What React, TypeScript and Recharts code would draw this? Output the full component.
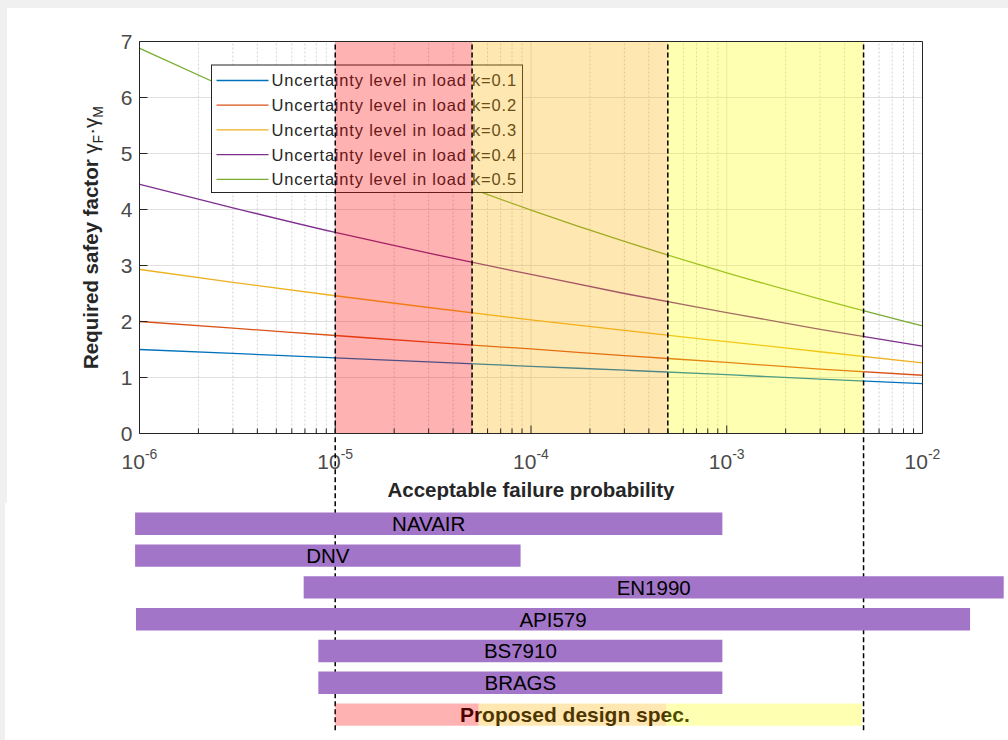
import React from 'react';
import {
  ComposedChart,
  BarChart,
  Line,
  Bar,
  XAxis,
  YAxis,
  CartesianGrid,
  ReferenceArea,
  ReferenceLine,
  LabelList,
  Label,
} from 'recharts';

const FONT = '"Liberation Sans", Arial, Helvetica, sans-serif';
const AXIS_COLOR = '#262626';
const TICK_TEXT = '#4a4a4a';

// ---------------- top chart data ----------------
const probabilities = [1e-6, 3e-6, 1e-5, 3e-5, 1e-4, 3e-4, 1e-3, 3e-3, 1e-2];
const factorK01 = [1.5, 1.43, 1.35, 1.28, 1.2, 1.13, 1.05, 0.97, 0.89];
const factorK02 = [2.0, 1.88, 1.75, 1.63, 1.51, 1.39, 1.27, 1.15, 1.04];
const factorK03 = [2.93, 2.7, 2.46, 2.25, 2.03, 1.84, 1.64, 1.46, 1.26];
const factorK04 = [4.45, 4.03, 3.59, 3.22, 2.84, 2.5, 2.16, 1.86, 1.56];
const factorK05 = [6.88, 6.12, 5.32, 4.66, 3.99, 3.43, 2.87, 2.4, 1.92];

const seriesKeys = ['k01', 'k02', 'k03', 'k04', 'k05'];
const seriesNames = [
  'Uncertainty level in load k=0.1',
  'Uncertainty level in load k=0.2',
  'Uncertainty level in load k=0.3',
  'Uncertainty level in load k=0.4',
  'Uncertainty level in load k=0.5',
];
const seriesColors = ['#0072BD', '#D95319', '#EDB120', '#7E2F8E', '#77AC30'];

const xMajorTicks = [1e-6, 1e-5, 1e-4, 1e-3, 1e-2];
const xMinorTicks = [
  2e-6, 3e-6, 4e-6, 5e-6, 6e-6, 7e-6, 8e-6, 9e-6,
  2e-5, 3e-5, 4e-5, 5e-5, 6e-5, 7e-5, 8e-5, 9e-5,
  2e-4, 3e-4, 4e-4, 5e-4, 6e-4, 7e-4, 8e-4, 9e-4,
  2e-3, 3e-3, 4e-3, 5e-3, 6e-3, 7e-3, 8e-3, 9e-3,
];
const yTicks = [0, 1, 2, 3, 4, 5, 6, 7];

const zoneEdges = [1e-5, 5e-5, 5e-4, 5e-3];
const zoneColors = ['#FF0000', '#FFB000', '#FFFF00'];

// ---------------- bottom chart data ----------------
const standardNames = ['NAVAIR', 'DNV', 'EN1990', 'API579', 'BS7910', 'BRAGS'];
const standardLow = [9.5e-7, 9.5e-7, 6.9e-6, 9.6e-7, 8.2e-6, 8.2e-6];
const standardHigh = [9.5e-4, 8.85e-5, 2.6e-2, 1.75e-2, 9.5e-4, 9.5e-4];
const proposedName = 'Proposed design spec.';
const proposedEdges = [1e-5, 5.4e-5, 4.9e-4, 4.9e-3];
const extendedLines = [1e-5, 5e-3];

const allXTicks = [...xMajorTicks, ...xMinorTicks].sort((a, b) => a - b);

const curveData = probabilities.map((p, i) => ({
  p,
  k01: factorK01[i],
  k02: factorK02[i],
  k03: factorK03[i],
  k04: factorK04[i],
  k05: factorK05[i],
}));

const barRows: any[] = [
  ...standardNames.map((name, i) => ({ name, range: [standardLow[i], standardHigh[i]] })),
  {
    name: proposedName,
    low: [proposedEdges[0], proposedEdges[1]],
    mid: [proposedEdges[1], proposedEdges[2]],
    high: [proposedEdges[2], proposedEdges[3]],
  },
];

// ---------------- tick renderers ----------------
function XTickBottom(props: any) {
  const { x, y, payload } = props;
  const v = payload.value;
  const major = xMajorTicks.includes(v);
  return (
    <g>
      <line x1={x} x2={x} y1={y} y2={y - (major ? 8 : 5)} stroke={AXIS_COLOR} strokeWidth={1} />
      {major && (
        <text x={x} y={y + 35.5} textAnchor="middle" fontFamily={FONT} fontSize={21} fill={TICK_TEXT}>
          10
          <tspan dy={-10} fontSize={14}>
            {String(Math.round(Math.log10(v)))}
          </tspan>
        </text>
      )}
    </g>
  );
}

function XTickTop(props: any) {
  const { x, y, payload } = props;
  const major = xMajorTicks.includes(payload.value);
  return <line x1={x} x2={x} y1={y} y2={y + (major ? 8 : 5)} stroke={AXIS_COLOR} strokeWidth={1} />;
}

function YTickLeft(props: any) {
  const { x, y, payload } = props;
  return (
    <g>
      <line x1={x} x2={x + 8} y1={y} y2={y} stroke={AXIS_COLOR} strokeWidth={1} />
      <text x={x - 7} y={y} dy="0.36em" textAnchor="end" fontFamily={FONT} fontSize={21} fill={TICK_TEXT}>
        {payload.value}
      </text>
    </g>
  );
}

function YTickRight(props: any) {
  const { x, y } = props;
  return <line x1={x} x2={x - 8} y1={y} y2={y} stroke={AXIS_COLOR} strokeWidth={1} />;
}

function XLabelContent(props: any) {
  const vb = props.viewBox || {};
  const cx = vb.x + vb.width / 2;
  return (
    <text x={cx} y={vb.y + 63.5} textAnchor="middle" fontFamily={FONT} fontSize={20.5} fontWeight="bold" fill={AXIS_COLOR}>
      Acceptable failure probability
    </text>
  );
}

function YLabelContent(props: any) {
  const vb = props.viewBox || {};
  const cx = vb.x + vb.width - 42;
  const cy = vb.y + vb.height / 2;
  return (
    <text
      x={cx}
      y={cy}
      transform={`rotate(-90 ${cx} ${cy})`}
      textAnchor="middle"
      fontFamily={FONT}
      fontSize={20.5}
      fill={AXIS_COLOR}
    >
      <tspan fontWeight="bold">Required safey factor </tspan>
      <tspan>γ</tspan>
      <tspan fontSize={14} dy={5}>F</tspan>
      <tspan dy={-5}>·γ</tspan>
      <tspan fontSize={14} dy={5}>M</tspan>
    </text>
  );
}

function LegendBox() {
  const x0 = 211.5;
  const y0 = 65;
  const rowH = 24.7;
  return (
    <g>
      <rect x={x0} y={y0} width={311} height={127.5} fill="#ffffff" stroke={AXIS_COLOR} strokeWidth={1} />
      {seriesNames.map((name, i) => {
        const cy = y0 + 15.5 + i * rowH;
        return (
          <g key={name}>
            <line x1={x0 + 5} x2={x0 + 57} y1={cy} y2={cy} stroke={seriesColors[i]} strokeWidth={1.3} />
            <text
              x={x0 + 60}
              y={cy}
              dy="0.36em"
              fontFamily={FONT}
              fontSize={16.5}
              letterSpacing={0.8}
              fill={AXIS_COLOR}
            >
              {name}
            </text>
          </g>
        );
      })}
    </g>
  );
}

function validBox(vb: any) {
  return (
    vb &&
    Number.isFinite(vb.x) &&
    Number.isFinite(vb.y) &&
    Number.isFinite(vb.width) &&
    Number.isFinite(vb.height) &&
    Math.abs(vb.width) > 0.5
  );
}

function StandardLabel(props: any) {
  const vb = props.viewBox && Number.isFinite(props.viewBox.x) ? props.viewBox : props;
  if (!validBox(vb) || props.value == null) return null;
  return (
    <text
      x={vb.x + vb.width / 2}
      y={vb.y + vb.height / 2}
      dy="0.36em"
      textAnchor="middle"
      fontFamily={FONT}
      fontSize={20.5}
      fill="#000000"
    >
      {props.value}
    </text>
  );
}

// the proposed-spec caption sits under the translucent coloured segments
function ProposedTextShape(props: any) {
  if (!validBox(props) || !props.payload) return null;
  return (
    <text
      x={props.x + props.width / 2 + 2.5}
      y={props.y + props.height / 2}
      dy="0.36em"
      textAnchor="middle"
      fontFamily={FONT}
      fontSize={21}
      fontWeight="bold"
      fill="#000000"
    >
      {props.payload.name}
    </text>
  );
}

export default function App() {
  return (
    <div
      style={{
        position: 'absolute',
        left: 0,
        top: 0,
        width: 1008,
        height: 740,
        background: '#F0F0F0',
        overflow: 'hidden',
        fontFamily: FONT,
      }}
    >
      <div style={{ position: 'absolute', left: 7, top: 8, width: 1001, height: 495, background: '#ffffff' }} />
      <div style={{ position: 'absolute', left: 5, top: 503, width: 1003, height: 237, background: '#ffffff' }} />

      <div style={{ position: 'absolute', left: 0, top: 0 }}>
        <ComposedChart
          width={1008}
          height={500}
          data={curveData}
          margin={{ top: 40.5, right: 84.5, bottom: 65.5, left: 138.5 }}
        >
          <CartesianGrid vertical={false} stroke="#e0e0e0" strokeWidth={1} />
          {allXTicks.map((v) => (
            <ReferenceLine
              key={`g-${v}`}
              x={v}
              stroke={xMajorTicks.includes(v) ? '#e0e0e0' : '#d2d2d2'}
              strokeDasharray={xMajorTicks.includes(v) ? undefined : '2 2'}
              strokeWidth={1}
              zIndex={-90}
            />
          ))}
          {seriesKeys.map((k, i) => (
            <Line
              key={k}
              dataKey={k}
              name={seriesNames[i]}
              stroke={seriesColors[i]}
              strokeWidth={1.3}
              dot={false}
              activeDot={false}
              type="monotone"
              isAnimationActive={false}
              zIndex={-50}
            />
          ))}
          <LegendBox />
          {zoneColors.map((c, i) => (
            <ReferenceArea
              key={`z-${i}`}
              x1={zoneEdges[i]}
              x2={zoneEdges[i + 1]}
              fill={c}
              fillOpacity={0.3}
              stroke="none"
              zIndex={150}
            />
          ))}
          {zoneEdges.map((e) => (
            <ReferenceLine
              key={`d-${e}`}
              x={e}
              stroke="#000000"
              strokeDasharray="5 3"
              strokeWidth={1.5}
              zIndex={450}
            />
          ))}
          <XAxis
            dataKey="p"
            type="number"
            scale="log"
            domain={[1e-6, 1e-2]}
            ticks={allXTicks}
            interval={0}
            height={1}
            tickSize={0}
            tickMargin={0}
            tickLine={false}
            tick={<XTickBottom />}
            axisLine={{ stroke: AXIS_COLOR, strokeWidth: 1 }}
          >
            <Label content={<XLabelContent />} />
          </XAxis>
          <XAxis
            xAxisId="top"
            orientation="top"
            type="number"
            scale="log"
            domain={[1e-6, 1e-2]}
            ticks={allXTicks}
            interval={0}
            height={1}
            tickSize={0}
            tickMargin={0}
            tickLine={false}
            tick={<XTickTop />}
            axisLine={{ stroke: AXIS_COLOR, strokeWidth: 1 }}
          />
          <YAxis
            type="number"
            domain={[0, 7]}
            ticks={yTicks}
            interval={0}
            width={1}
            tickSize={0}
            tickMargin={0}
            tickLine={false}
            tick={<YTickLeft />}
            axisLine={{ stroke: AXIS_COLOR, strokeWidth: 1 }}
          >
            <Label content={<YLabelContent />} />
          </YAxis>
          <YAxis
            yAxisId="right"
            orientation="right"
            type="number"
            domain={[0, 7]}
            ticks={yTicks}
            interval={0}
            width={1}
            tickSize={0}
            tickMargin={0}
            tickLine={false}
            tick={<YTickRight />}
            axisLine={{ stroke: AXIS_COLOR, strokeWidth: 1 }}
          />
        </ComposedChart>
      </div>

      <div style={{ position: 'absolute', left: 0, top: 436 }}>
        <BarChart
          layout="vertical"
          width={1032}
          height={304}
          data={barRows}
          margin={{ top: 0, right: 11.7, bottom: 9.8, left: 130.5 }}
          barSize={22.4}
          barGap={-22.4}
        >
          <XAxis type="number" scale="log" domain={[9e-7, 0.0316]} hide />
          <YAxis type="category" dataKey="name" hide padding={{ top: 71.6, bottom: 0 }} />
          {extendedLines.map((e) => (
            <ReferenceLine
              key={`e-${e}`}
              x={e}
              stroke="#000000"
              strokeDasharray="5 3"
              strokeWidth={1.5}
              zIndex={100}
            />
          ))}
          <Bar dataKey="range" fill="#A375C9" isAnimationActive={false}>
            <LabelList dataKey="name" content={<StandardLabel />} />
          </Bar>
          <Bar dataKey="mid" fill="none" isAnimationActive={false} zIndex={240} shape={<ProposedTextShape />} />
          <Bar dataKey="low" fill="#FF0000" fillOpacity={0.3} isAnimationActive={false} />
          <Bar dataKey="mid" fill="#FFB000" fillOpacity={0.3} isAnimationActive={false} />
          <Bar dataKey="high" fill="#FFFF00" fillOpacity={0.3} isAnimationActive={false} />
        </BarChart>
      </div>
    </div>
  );
}
